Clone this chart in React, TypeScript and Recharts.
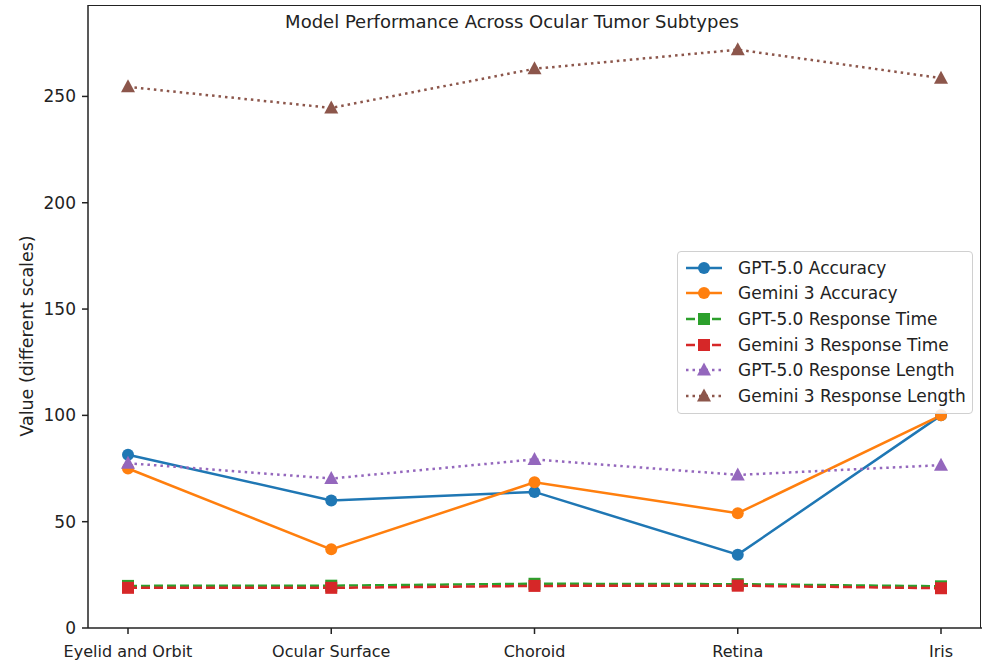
import { Legend, Line, LineChart, XAxis, YAxis } from "recharts";

const subtypes = ["Eyelid and Orbit", "Ocular Surface", "Choroid", "Retina", "Iris"];
const gptAccuracy = [81.5, 60, 64, 34.5, 100];
const geminiAccuracy = [75, 37, 68.5, 54, 100];
const gptTime = [19.8, 19.9, 20.8, 20.6, 19.6];
const geminiTime = [18.9, 18.9, 19.8, 19.9, 18.7];
const gptLength = [77.5, 70.3, 79.3, 72, 76.6];
const geminiLength = [254.5, 244.6, 263, 272, 258.6];
const yTicks = [0, 50, 100, 150, 200, 250];

const FONT = "'DejaVu Sans', sans-serif";

const rows = subtypes.map((name, i) => ({
  name,
  gptAcc: gptAccuracy[i],
  gemAcc: geminiAccuracy[i],
  gptTime: gptTime[i],
  gemTime: geminiTime[i],
  gptLen: gptLength[i],
  gemLen: geminiLength[i],
}));

type Marker = "circle" | "square" | "triangle";

const series: { key: string; label: string; color: string; dash?: string; marker: Marker }[] = [
  { key: "gptAcc", label: "GPT-5.0 Accuracy", color: "#1f77b4", marker: "circle" },
  { key: "gemAcc", label: "Gemini 3 Accuracy", color: "#ff7f0e", marker: "circle" },
  { key: "gptTime", label: "GPT-5.0 Response Time", color: "#2ca02c", dash: "9 4", marker: "square" },
  { key: "gemTime", label: "Gemini 3 Response Time", color: "#d62728", dash: "9 4", marker: "square" },
  { key: "gptLen", label: "GPT-5.0 Response Length", color: "#9467bd", dash: "2.5 4", marker: "triangle" },
  { key: "gemLen", label: "Gemini 3 Response Length", color: "#8c564b", dash: "2.5 4", marker: "triangle" },
];

function drawMarker(marker: Marker, cx: number, cy: number, color: string, key?: string | number) {
  if (marker === "circle") return <circle key={key} cx={cx} cy={cy} r={6} fill={color} />;
  if (marker === "square") return <rect key={key} x={cx - 6} y={cy - 6} width={12} height={12} fill={color} />;
  return (
    <polygon
      key={key}
      points={`${cx},${cy - 7.5} ${cx - 7},${cy + 5.5} ${cx + 7},${cy + 5.5}`}
      fill={color}
    />
  );
}

function LegendBox() {
  return (
    <div
      style={{
        border: "1px solid #d0d0d0",
        borderRadius: 4,
        background: "rgba(255,255,255,0.85)",
        padding: "3px 6px 4px 6px",
        fontFamily: FONT,
        fontSize: 17,
        color: "#222",
      }}
    >
      {series.map((s) => (
        <div key={s.key} style={{ display: "flex", alignItems: "center", height: 25.6 }}>
          <svg width={40} height={18} style={{ marginRight: 14 }}>
            <line x1={2} x2={38} y1={9} y2={9} stroke={s.color} strokeWidth={2.5} strokeDasharray={s.dash} />
            {drawMarker(s.marker, 20, 9, s.color)}
          </svg>
          <span style={{ whiteSpace: "nowrap" }}>{s.label}</span>
        </div>
      ))}
    </div>
  );
}

export default function App() {
  return (
    <div style={{ position: "absolute", left: 0, top: 0, width: 1000, height: 668, background: "#fff" }}>
      <LineChart width={1000} height={668} data={rows} margin={{ top: 5, right: 18, bottom: 10, left: 28 }}>
        <XAxis
          dataKey="name"
          padding={{ left: 40, right: 41 }}
          tickSize={6}
          tickMargin={12}
          height={30}
          axisLine={{ stroke: "#222", strokeWidth: 1.5 }}
          tickLine={{ stroke: "#222", strokeWidth: 1.5 }}
          tick={{ fill: "#222", fontSize: 16, fontFamily: FONT }}
          interval={0}
        />
        <YAxis
          domain={[0, 293]}
          ticks={yTicks}
          width={60}
          tickSize={6}
          tickMargin={6}
          allowDataOverflow
          axisLine={{ stroke: "#222", strokeWidth: 1.5 }}
          tickLine={{ stroke: "#222", strokeWidth: 1.5 }}
          tick={{ fill: "#222", fontSize: 17, fontFamily: FONT }}
        />
        {series.map((s) => (
          <Line
            key={s.key}
            dataKey={s.key}
            stroke={s.color}
            strokeWidth={2.5}
            strokeDasharray={s.dash}
            isAnimationActive={false}
            dot={(p: any) => drawMarker(s.marker, p.cx, p.cy, s.color, `${s.key}-${p.index}`)}
            activeDot={false}
          />
        ))}
        <Legend
          layout="vertical"
          align="center"
          verticalAlign="middle"
          content={() => <LegendBox />}
          wrapperStyle={{ left: 677, top: 251, width: 296 }}
        />
      </LineChart>
      {/* matplotlib-style frame: top and right spines */}
      <div
        style={{
          position: "absolute",
          left: 88,
          top: 4.5,
          width: 893,
          height: 623,
          borderTop: "1.5px solid #222",
          borderRight: "1.5px solid #222",
          boxSizing: "border-box",
          pointerEvents: "none",
        }}
      />
      <div
        style={{
          position: "absolute",
          left: 0,
          width: 1024,
          top: 11,
          textAlign: "center",
          fontFamily: FONT,
          fontSize: 18,
          color: "#222",
          pointerEvents: "none",
        }}
      >
        Model Performance Across Ocular Tumor Subtypes
      </div>
      <div
        style={{
          position: "absolute",
          left: 27,
          top: 336,
          transform: "translate(-50%, -50%) rotate(-90deg)",
          whiteSpace: "nowrap",
          fontFamily: FONT,
          fontSize: 17.5,
          color: "#222",
        }}
      >
        Value (different scales)
      </div>
    </div>
  );
}
